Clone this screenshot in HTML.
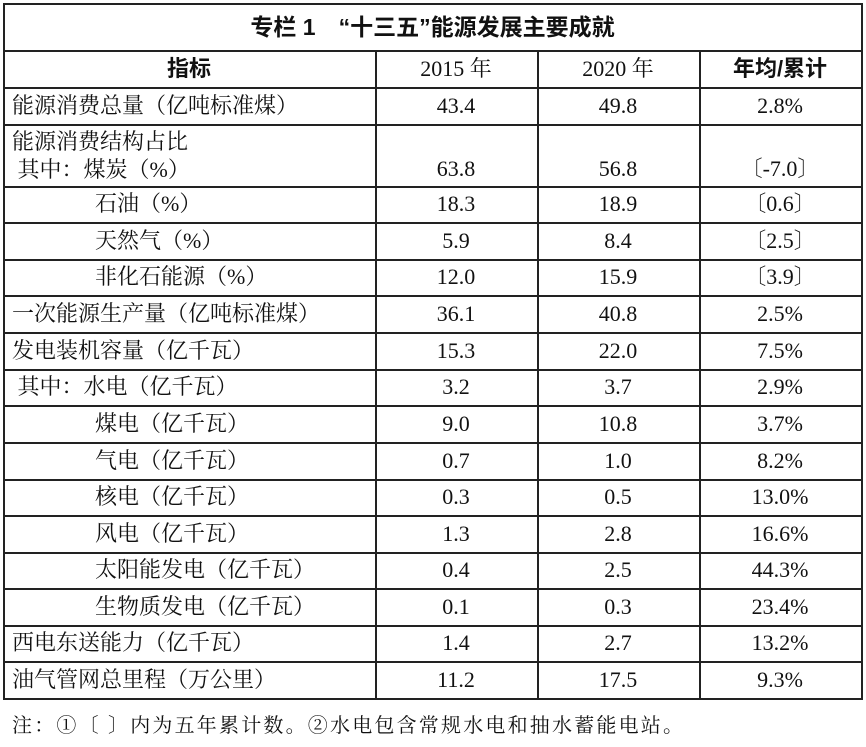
<!DOCTYPE html>
<html><head><meta charset="utf-8"><style>
body{margin:0;background:#fff;width:866px;height:747px;position:relative;overflow:hidden;font-family:"Liberation Serif","Noto Serif CJK SC",serif;color:#111}
.h,.v{position:absolute;background:#222}
.h{height:1.5px;left:3px;width:859px}
.v{width:1.5px}
.t{position:absolute;font-size:22px;line-height:26px;white-space:nowrap}
.c{text-align:center}
.b{font-family:"Liberation Sans","Noto Sans CJK SC",sans-serif;font-weight:bold}
</style></head><body>
<div class="h" style="top:3px"></div>
<div class="h" style="top:50px"></div>
<div class="h" style="top:87px"></div>
<div class="h" style="top:124px"></div>
<div class="h" style="top:186px"></div>
<div class="h" style="top:222px"></div>
<div class="h" style="top:259px"></div>
<div class="h" style="top:295px"></div>
<div class="h" style="top:332px"></div>
<div class="h" style="top:369px"></div>
<div class="h" style="top:405px"></div>
<div class="h" style="top:442px"></div>
<div class="h" style="top:479px"></div>
<div class="h" style="top:515px"></div>
<div class="h" style="top:552px"></div>
<div class="h" style="top:588px"></div>
<div class="h" style="top:625px"></div>
<div class="h" style="top:661px"></div>
<div class="h" style="top:698px"></div>
<div class="v" style="left:3px;top:3px;height:697px"></div>
<div class="v" style="left:861px;top:3px;height:697px"></div>
<div class="v" style="left:375px;top:50px;height:650px"></div>
<div class="v" style="left:537px;top:50px;height:650px"></div>
<div class="v" style="left:699px;top:50px;height:650px"></div>

<div class="t c b" style="left:3px;width:859px;top:14px;font-size:23px">专栏 1　“十三五”能源发展主要成就</div>
<div class="t c b" style="left:3px;width:372px;top:56px">指标</div>
<div class="t c" style="left:375px;width:162px;top:56px">2015 年</div>
<div class="t c" style="left:537px;width:162px;top:56px">2020 年</div>
<div class="t c b" style="left:699px;width:162px;top:56px">年均/累计</div>

<div id="rows"></div>
<script>
var R=[
[87,124,"能源消费总量（亿吨标准煤）",12,"43.4","49.8","2.8%"],
[124,186,"能源消费结构占比<br>&nbsp;其中：煤炭（%）",12,"63.8","56.8","〔-7.0〕"],
[186,222,"石油（%）",95,"18.3","18.9","〔0.6〕"],
[222,259,"天然气（%）",95,"5.9","8.4","〔2.5〕"],
[259,295,"非化石能源（%）",95,"12.0","15.9","〔3.9〕"],
[295,332,"一次能源生产量（亿吨标准煤）",12,"36.1","40.8","2.5%"],
[332,369,"发电装机容量（亿千瓦）",12,"15.3","22.0","7.5%"],
[369,405,"&nbsp;其中：水电（亿千瓦）",12,"3.2","3.7","2.9%"],
[405,442,"煤电（亿千瓦）",95,"9.0","10.8","3.7%"],
[442,479,"气电（亿千瓦）",95,"0.7","1.0","8.2%"],
[479,515,"核电（亿千瓦）",95,"0.3","0.5","13.0%"],
[515,552,"风电（亿千瓦）",95,"1.3","2.8","16.6%"],
[552,588,"太阳能发电（亿千瓦）",95,"0.4","2.5","44.3%"],
[588,625,"生物质发电（亿千瓦）",95,"0.1","0.3","23.4%"],
[625,661,"西电东送能力（亿千瓦）",12,"1.4","2.7","13.2%"],
[661,698,"油气管网总里程（万公里）",12,"11.2","17.5","9.3%"]];
var h="";
R.forEach(function(r){
 var mid=(r[0]+r[1])/2, multi=r[2].indexOf("<br>")>=0;
 var ty=multi?r[0]+4:mid-13;
 h+='<div class="t" style="left:'+r[3]+'px;top:'+ty+'px;line-height:'+(multi?'28px':'26px')+'">'+r[2]+'</div>';
 var ny=multi?r[0]+32:mid-13;
 h+='<div class="t c" style="left:375px;width:162px;top:'+ny+'px">'+r[4]+'</div>';
 h+='<div class="t c" style="left:537px;width:162px;top:'+ny+'px">'+r[5]+'</div>';
 h+='<div class="t c" style="left:699px;width:162px;top:'+ny+'px">'+r[6]+'</div>';
});
document.getElementById("rows").innerHTML=h;
</script>
<div class="t" style="left:12px;top:713px;font-size:20px;letter-spacing:2.2px">注：①〔 〕内为五年累计数。②水电包含常规水电和抽水蓄能电站。</div>
</body></html>
